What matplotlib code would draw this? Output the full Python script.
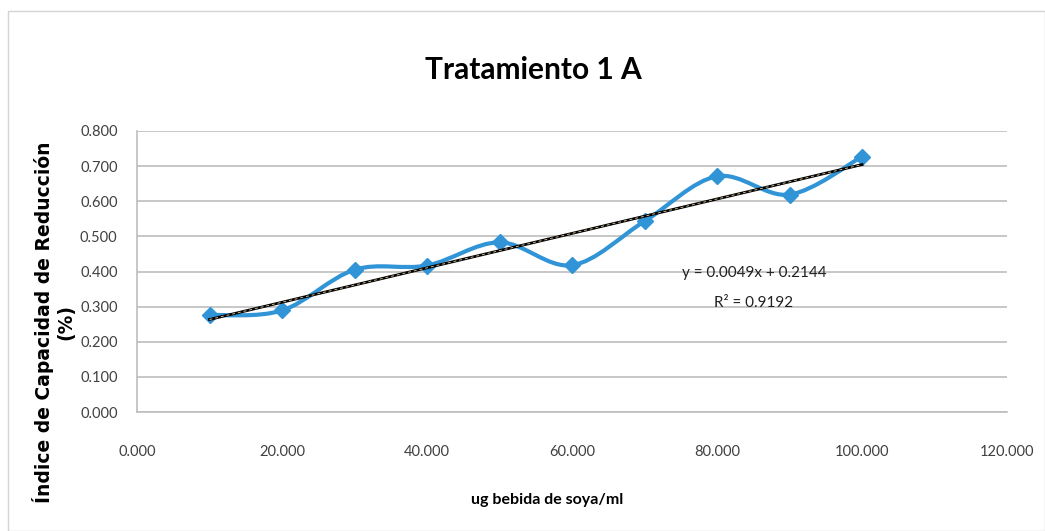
import numpy as np
import matplotlib.pyplot as plt
from matplotlib.path import Path
from matplotlib.patches import PathPatch, Rectangle

# data
dose = [10, 20, 30, 40, 50, 60, 70, 80, 90, 100]
icr = [0.276, 0.289, 0.405, 0.417, 0.483, 0.418, 0.543, 0.671, 0.619, 0.727]
slope = 0.0049
intercept = 0.2144
r2 = 0.9192

x_ticks = [0, 20, 40, 60, 80, 100, 120]
y_ticks = [0.0, 0.1, 0.2, 0.3, 0.4, 0.5, 0.6, 0.7, 0.8]

plt.rcParams['font.family'] = ['Lato', 'DejaVu Sans']

BLUE = '#3194d6'


def smooth_path(xs, ys):
    # Excel-style smoothed line: cubic bezier segments through each point
    pts = np.column_stack([xs, ys])
    n = len(pts)
    verts = [pts[0]]
    codes = [Path.MOVETO]
    for i in range(n - 1):
        p0 = pts[i - 1] if i > 0 else pts[i]
        p1 = pts[i]
        p2 = pts[i + 1]
        p3 = pts[i + 2] if i + 2 < n else pts[i + 1]
        c1 = p1 + (p2 - p0) / 6.0
        c2 = p2 - (p3 - p1) / 6.0
        verts += [c1, c2, p2]
        codes += [Path.CURVE4] * 3
    return Path(verts, codes)


fig = plt.figure(figsize=(10.45, 5.31), dpi=100)
ax = fig.add_axes([137 / 1045, 1 - 412 / 531, (1007 - 137) / 1045, (412 - 131) / 531])

# outer chart border
fig.patches.append(Rectangle((8 / 1045, 0), 1 - 8 / 1045, 1 - 11 / 531, transform=fig.transFigure,
                             fill=False, edgecolor='#d4d4d4', linewidth=1.0))

ax.set_xlim(0, 120)
ax.set_ylim(0, 0.8)
ax.set_xticks(x_ticks)
ax.set_yticks(y_ticks)
ax.set_xticklabels([f"{v:.3f}" for v in x_ticks])
ax.set_yticklabels([f"{v:.3f}" for v in y_ticks])
ax.tick_params(length=0, labelsize=10.5, labelcolor='#404040')
ax.tick_params(axis='x', pad=24)
ax.tick_params(axis='y', pad=14)

ax.grid(axis='y', color='#bdbdbd', linewidth=1.2)
ax.set_axisbelow(True)
for side in ['top', 'right']:
    ax.spines[side].set_visible(False)
for side in ['left', 'bottom']:
    ax.spines[side].set_color('#bdbdbd')
    ax.spines[side].set_linewidth(1.2)

ax.add_patch(PathPatch(smooth_path(dose, icr), facecolor='none', edgecolor=BLUE, linewidth=3, zorder=3))
ax.plot(dose, icr, linestyle='none', marker='D', markersize=8, color=BLUE, zorder=4)

tx = np.array([dose[0], dose[-1]])
ax.plot(tx, slope * tx + intercept, color='black', linewidth=2, zorder=5)
ax.plot(tx, slope * tx + intercept, color='#c9b78f', linewidth=0.7, linestyle=(0, (3, 3)), zorder=6)

ax.text(85.1, 0.396, f"y = {slope}x + {intercept}", ha='center', va='center', fontsize=11, color='#202020')
ax.text(85.1, 0.31, f"R² = {r2}", ha='center', va='center', fontsize=11, color='#202020')

fig.text(533 / 1045, 1 - 70 / 531, 'Tratamiento 1 A', ha='center', va='center', fontsize=21.5, fontweight='bold')
fig.text(547 / 1045, 1 - 500 / 531, 'ug bebida de soya/ml', ha='center', va='center', fontsize=11.5, fontweight='bold')
fig.text(54 / 1045, 1 - 322 / 531, 'Índice de Capacidad de Reducción\n(%)', ha='center', va='center',
         rotation=90, fontsize=13.5, fontweight='bold', family='DejaVu Sans', linespacing=1.15)

fig.savefig('out.png', dpi=100)
